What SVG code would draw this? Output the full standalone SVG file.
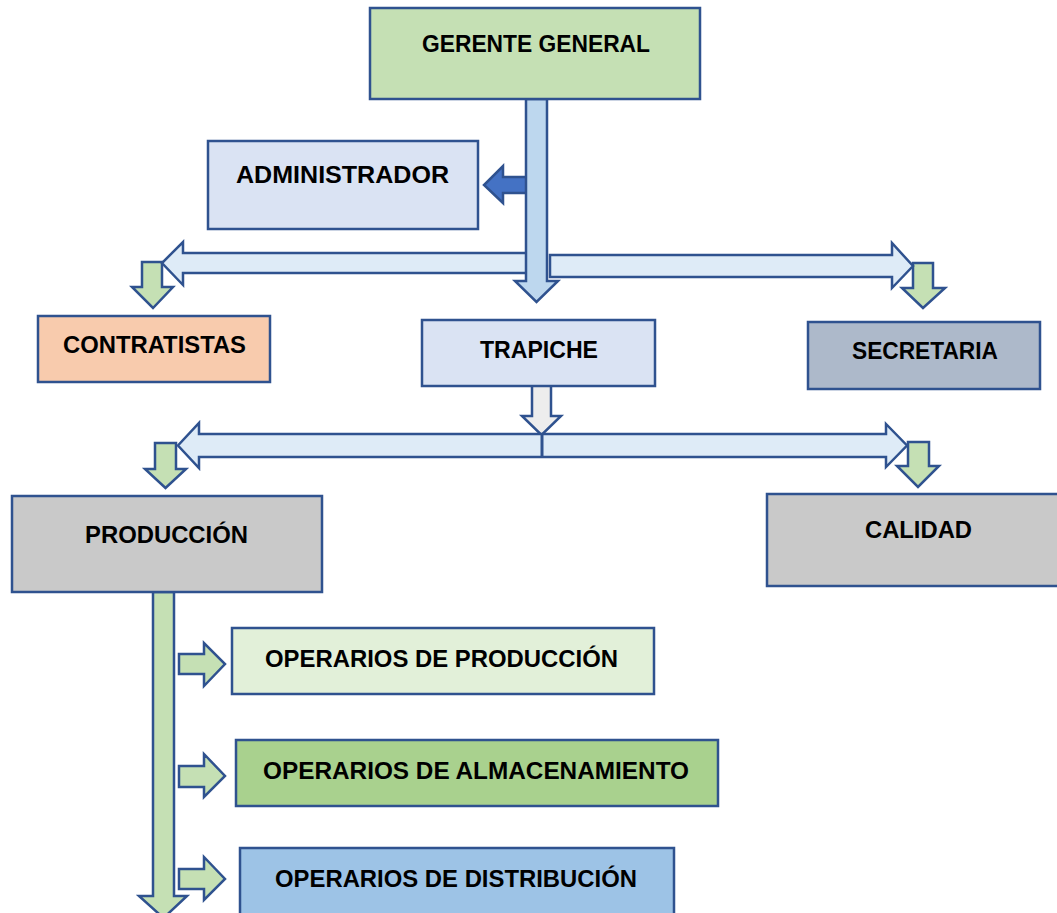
<svg xmlns="http://www.w3.org/2000/svg" width="1057" height="913" viewBox="0 0 1057 913">
<style>
.box{stroke:#2F528F;stroke-width:2.5}
.arr{stroke:#2F528F;stroke-width:2.5;stroke-linejoin:miter}
.t{font-family:"Liberation Sans",Arial,sans-serif;font-weight:bold;font-size:24.5px;fill:#000;text-anchor:middle}
.lb{fill:#DEEBF7}
.mb{fill:#BDD7EE}
.gr{fill:#C5E0B4}
</style>
<rect width="1057" height="913" fill="#fff"/>
<g id="connectors">
<polygon class="arr gr" points="142,262 162,262 162,287 173,287 153,308 132,287 142,287"/>
<polygon class="arr gr" points="913,263 933,263 933,288 945,288 923,308 902,288 913,288"/>
<polygon class="arr" fill="#4472C4" points="527,177 503,177 503,166 484,185 503,203 503,193 527,193"/>
<polygon class="arr lb" points="527,253 183,253 183,242 162,263 183,285 183,273 527,273"/>
<polygon class="arr lb" points="550,255 892,255 892,243 913,266 892,288 892,277 550,277"/>
<polygon class="arr mb" points="526,99 547,99 547,281 558,281 536.5,302 515,281 526,281"/>
<polygon class="arr" fill="#EDEDED" points="532,385 551,385 551,416 561,416 541.5,435 522,416 532,416"/>
<polygon class="arr gr" points="155,443 176,443 176,469 186,469 165.5,488 145,469 155,469"/>
<polygon class="arr gr" points="908,442 929,442 929,466 939,466 918,487 897,466 908,466"/>
<polygon class="arr lb" points="199,434 886,434 886,424 907,445.5 886,467 886,457 199,457 199,468 178,445.5 199,423"/>
<line x1="542" y1="434" x2="542" y2="457" stroke="#2F528F" stroke-width="3"/>
<polygon class="arr gr" points="153,592 174,592 174,896 187,896 163.5,918 139,896 153,896"/>
<polygon class="arr gr" points="179,654 204,654 204,643 225,664 204,686 204,674 179,674"/>
<polygon class="arr gr" points="179,766 204,766 204,754 225,776 204,797 204,787 179,787"/>
<polygon class="arr gr" points="179,869 204,869 204,857 225,879 204,900 204,889 179,889"/>
</g>
<g id="gerente">
<rect class="box" x="370" y="8" width="330" height="91" fill="#C5E0B4"/>
<text class="t" x="536" y="52" textLength="228" lengthAdjust="spacingAndGlyphs">GERENTE GENERAL</text>
</g>
<g id="administrador">
<rect class="box" x="208" y="141" width="270" height="88" fill="#DAE3F3"/>
<text class="t" x="342.5" y="183" textLength="213" lengthAdjust="spacingAndGlyphs">ADMINISTRADOR</text>
</g>
<g id="contratistas">
<rect class="box" x="38" y="316" width="232" height="66" fill="#F8CBAD"/>
<text class="t" x="154.5" y="353" textLength="183" lengthAdjust="spacingAndGlyphs">CONTRATISTAS</text>
</g>
<g id="trapiche">
<rect class="box" x="422" y="320" width="233" height="66" fill="#DAE3F3"/>
<text class="t" x="539" y="358" textLength="118" lengthAdjust="spacingAndGlyphs">TRAPICHE</text>
</g>
<g id="secretaria">
<rect class="box" x="808" y="322" width="232" height="67" fill="#ADB9CA"/>
<text class="t" x="925" y="359" textLength="146" lengthAdjust="spacingAndGlyphs">SECRETARIA</text>
</g>
<g id="produccion">
<rect class="box" x="12" y="496" width="310" height="96" fill="#C9C9C9"/>
<text class="t" x="166.5" y="543" textLength="163" lengthAdjust="spacingAndGlyphs">PRODUCCIÓN</text>
</g>
<g id="calidad">
<rect class="box" x="767" y="494" width="295" height="92" fill="#C9C9C9"/>
<text class="t" x="918.5" y="538" textLength="107" lengthAdjust="spacingAndGlyphs">CALIDAD</text>
</g>
<g id="op-produccion">
<rect class="box" x="232" y="628" width="422" height="66" fill="#E2F0D9"/>
<text class="t" x="441.5" y="667" textLength="353" lengthAdjust="spacingAndGlyphs">OPERARIOS DE PRODUCCIÓN</text>
</g>
<g id="op-almacenamiento">
<rect class="box" x="236" y="740" width="482" height="66" fill="#A9D18E"/>
<text class="t" x="476" y="779" textLength="426" lengthAdjust="spacingAndGlyphs">OPERARIOS DE ALMACENAMIENTO</text>
</g>
<g id="op-distribucion">
<rect class="box" x="240" y="848" width="434" height="70" fill="#9DC3E6"/>
<text class="t" x="456" y="887" textLength="362" lengthAdjust="spacingAndGlyphs">OPERARIOS DE DISTRIBUCIÓN</text>
</g>
</svg>
